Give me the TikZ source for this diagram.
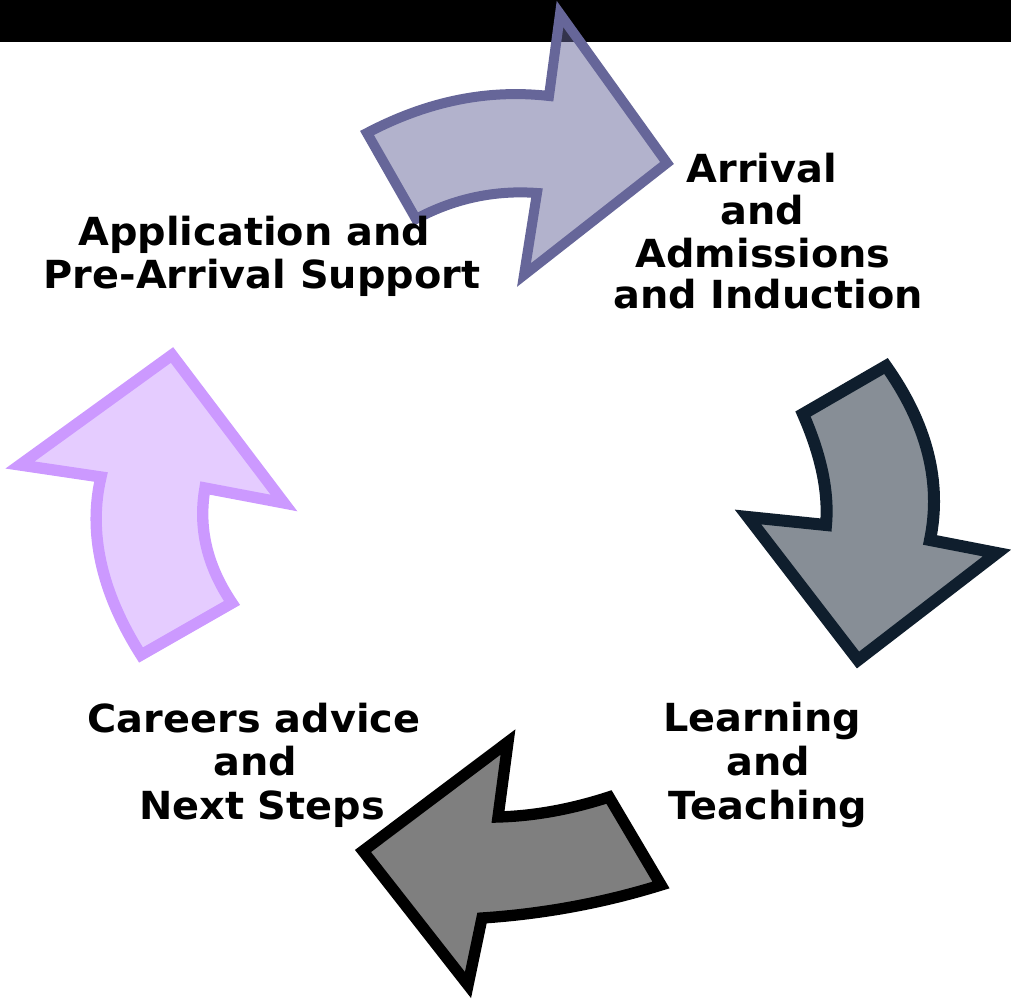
\documentclass[tikz,border=0pt]{standalone}
\usepackage{fontspec}
\setmainfont{DejaVu Sans}[FakeStretch=1.03]
\begin{document}
\begin{tikzpicture}[x=0.75pt,y=-0.75pt,
  arrowshape/.style={line width=#1, line join=miter, fill opacity=0.5},
  lbl/.style={anchor=base, inner sep=0pt, font=\bfseries\fontsize{29}{33}\selectfont}]
\useasboundingbox (0,0) rectangle (1011,999);
\fill[black] (0,0) rectangle (1011,42);
\definecolor{cTop}{HTML}{666699}
\definecolor{cRight}{HTML}{0F1E2D}
\definecolor{cLeft}{HTML}{CC99FF}
% top arrow
\draw[arrowshape=7.5pt, draw=cTop, fill=cTop]
  (367,133) .. controls (428,101) and (488,89) .. (549,96) -- (560,14) -- (667,163) -- (524,275) -- (537,193)
  .. controls (496,190) and (455,198) .. (416,219) -- cycle;
% right arrow
\draw[arrowshape=9pt, draw=cRight, fill=cRight]
  (886,366) -- (803,414) .. controls (821,455) and (829,492) .. (826,525) -- (748,517) -- (858,660) -- (997,553) -- (930,540)
  .. controls (942,482) and (927,424) .. cycle;
% bottom arrow
\draw[arrowshape=8.5pt, draw=black, fill=black]
  (609,797) .. controls (572,809) and (535,816) .. (498,817) -- (508,742) -- (363,851) -- (468,985) -- (482,918)
  .. controls (543,914) and (603,903) .. (661,885) -- cycle;
% left arrow
\draw[arrowshape=8.5pt, draw=cLeft, fill=cLeft]
  (141,655) .. controls (101,592) and (88,532) .. (101,477) -- (20,465) -- (172,355) -- (284,503) -- (205,488)
  .. controls (198,528) and (207,566) .. (232,603) -- cycle;
% labels
\node[lbl] (a1) at (261,245) {Application and\hspace*{0.35em}};
\node[lbl] (a2) at (262,288) {Pre-Arrival Support};
\node[lbl] (b1) at (762,182) {Arrival};
\node[lbl] (b2) at (762,224) {and};
\node[lbl] (b3) at (763,267) {Admissions};
\node[lbl] (b4) at (768,308) {and Induction};
\node[lbl] (c1) at (762,731) {Learning};
\node[lbl] (c2) at (768,775) {and};
\node[lbl] (c3) at (768,819) {Teaching};
\node[lbl] (d1) at (254,732) {Careers advice};
\node[lbl] (d2) at (255,775) {and};
\node[lbl] (d3) at (262,819) {Next Steps};
\end{tikzpicture}
\end{document}
